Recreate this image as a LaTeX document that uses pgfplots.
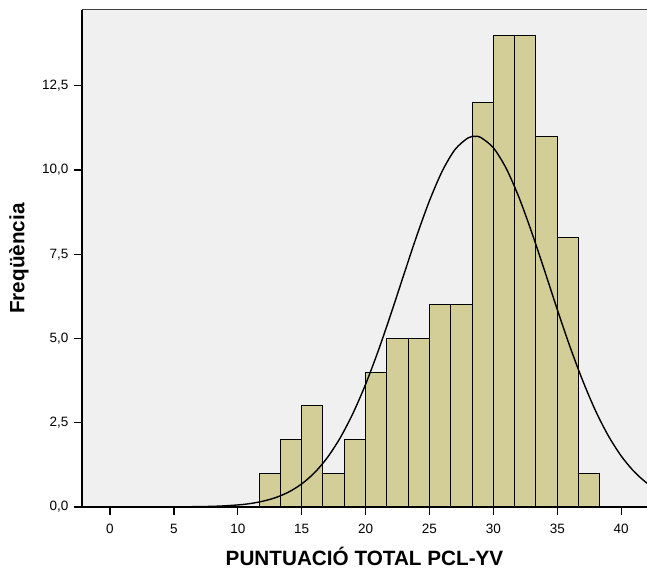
\documentclass[border=0pt]{standalone}
\usepackage{fontspec}
\setmainfont{Liberation Sans}
\usepackage{pgfplots}
\pgfplotsset{compat=1.18}
\definecolor{plotbg}{HTML}{F0F0F0}
\definecolor{barfill}{HTML}{D3CE98}

\begin{document}
\begin{tikzpicture}
\begin{axis}[
  scale only axis, width=565pt, height=497pt,
  xmin=-2.19, xmax=42.02, ymin=0, ymax=14.75,
  axis x line*=bottom, axis y line*=left,
  axis line style={line width=1.3pt, black},
  axis background/.style={fill=plotbg},
  xtick={0,5,...,40}, ytick={0,2.5,5,7.5,10,12.5},
  tick align=outside, major tick length=8pt,
  tick style={line width=1.3pt, black},
  /pgf/number format/assume math mode=true,
  yticklabel style={xshift=-2pt, /pgf/number format/.cd, fixed, fixed zerofill, precision=1, use comma},
  ticklabel style={font=\fontsize{13.5}{16}\selectfont},
  xticklabel style={yshift=-6pt},
  xlabel={PUNTUACIÓ TOTAL PCL-YV},
  ylabel={Freqüència},
  label style={font=\fontsize{20.7}{24}\selectfont\bfseries},
  xlabel style={at={(rel axis cs:0.5,-0.0986)}, anchor=center},
  ylabel style={at={(rel axis cs:-0.1115,0.5)}, anchor=center},
]
% histogram bars (left edges, bin width 5/3)
\addplot[ybar interval, fill=barfill, draw=black, line width=1pt] coordinates {
  (11.667,1) (13.333,2) (15,3) (16.667,1) (18.333,2) (20,4) (21.667,5) (23.333,5)
  (25,6) (26.667,6) (28.333,12) (30,14) (31.667,14) (33.333,11) (35,8) (36.667,1) (38.333,1)
};
% normal curve
\addplot[black, line width=1.4pt, smooth] coordinates {
  (-2.2,0) (4,0.001) (8,0.019) (10,0.061) (11,0.104) (12,0.175) (13,0.284) (14,0.448)
  (15,0.685) (16,1.016) (17,1.463) (18,2.044) (19,2.77) (20,3.641) (21,4.645)
  (22,5.75) (23,6.905) (24,8.043) (25,9.09) (26,9.97) (27,10.61) (28,10.95)
  (28.55,11.0) (29,10.97) (30,10.66) (31,10.05) (32,9.19) (33,8.15) (34,7.02)
  (35,5.86) (36,4.75) (37,3.74) (38,2.85) (39,2.11) (40,1.515) (41,1.055)
  (42,0.713) (43,0.468)
};
\draw[line width=1pt, black!75] (rel axis cs:0,1) -- (rel axis cs:1,1);
\end{axis}
\pgfresetboundingbox
\path (-82pt,-62pt) rectangle (565pt,507pt);
\end{tikzpicture}
\end{document}
